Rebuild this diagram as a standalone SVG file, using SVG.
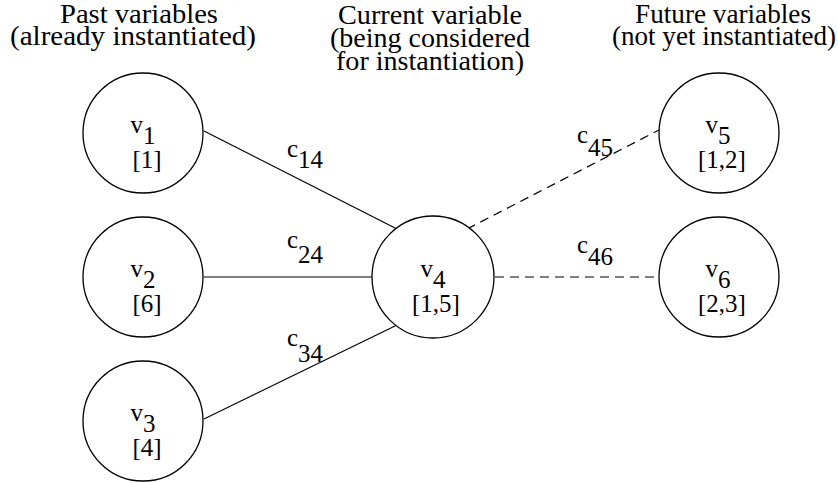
<svg xmlns="http://www.w3.org/2000/svg" width="838" height="483" viewBox="0 0 838 483">
<rect width="838" height="483" fill="#fff"/>
<g id="headers" text-anchor="middle" fill="#000">
<text font-family="Liberation Serif" font-size="28" x="139" y="23" textLength="158" lengthAdjust="spacingAndGlyphs">Past variables</text>
<text font-family="Liberation Serif" font-size="28" x="133" y="45" textLength="246" lengthAdjust="spacingAndGlyphs">(already instantiated)</text>
<text font-family="Liberation Serif" font-size="28" x="430" y="24" textLength="184" lengthAdjust="spacingAndGlyphs">Current variable</text>
<text font-family="Liberation Serif" font-size="28" x="430" y="47" textLength="200" lengthAdjust="spacingAndGlyphs">(being considered</text>
<text font-family="Liberation Serif" font-size="28" x="430" y="70" textLength="188" lengthAdjust="spacingAndGlyphs">for instantiation)</text>
<text font-family="Liberation Serif" font-size="28" x="723" y="23" textLength="176" lengthAdjust="spacingAndGlyphs">Future variables</text>
<text font-family="Liberation Serif" font-size="28" x="724" y="45" textLength="224" lengthAdjust="spacingAndGlyphs">(not yet instantiated)</text>
</g>
<g id="connectors" stroke="#000" stroke-width="1.2" fill="none">
<line x1="204" y1="131" x2="397" y2="229"/>
<line x1="204" y1="277" x2="372" y2="277"/>
<line x1="204" y1="419" x2="397" y2="325"/>
<g stroke-dasharray="9,6">
<line x1="467" y1="229" x2="659" y2="130"/>
<line x1="495" y1="277" x2="659" y2="277"/>
</g>
</g>
<g id="connector-labels" fill="#000">
<text font-family="Liberation Serif" font-size="25" x="287" y="157">c<tspan dy="11">14</tspan></text>
<text font-family="Liberation Serif" font-size="25" x="287" y="248">c<tspan dy="15">24</tspan></text>
<text font-family="Liberation Serif" font-size="25" x="287" y="346">c<tspan dy="16">34</tspan></text>
<text font-family="Liberation Serif" font-size="25" x="577" y="143">c<tspan dy="13">45</tspan></text>
<text font-family="Liberation Serif" font-size="25" x="577" y="253">c<tspan dy="12">46</tspan></text>
</g>
<g id="nodes" text-anchor="middle">
<g id="v1"><circle cx="143" cy="133" r="60" fill="#fff" stroke="#000" stroke-width="1.3"/><text font-family="Liberation Serif" font-size="25" x="143" y="133">v<tspan dy="11">1</tspan></text><text font-family="Liberation Serif" font-size="25" x="147" y="168">[1]</text></g>
<g id="v2"><circle cx="143" cy="277" r="60" fill="#fff" stroke="#000" stroke-width="1.3"/><text font-family="Liberation Serif" font-size="25" x="143" y="277">v<tspan dy="11">2</tspan></text><text font-family="Liberation Serif" font-size="25" x="147" y="312">[6]</text></g>
<g id="v3"><circle cx="143" cy="421" r="60" fill="#fff" stroke="#000" stroke-width="1.3"/><text font-family="Liberation Serif" font-size="25" x="143" y="421">v<tspan dy="11">3</tspan></text><text font-family="Liberation Serif" font-size="25" x="147" y="456">[4]</text></g>
<g id="v4"><circle cx="433" cy="277" r="61" fill="#fff" stroke="#000" stroke-width="1.3"/><text font-family="Liberation Serif" font-size="25" x="433" y="277">v<tspan dy="11">4</tspan></text><text font-family="Liberation Serif" font-size="25" x="436" y="312">[1,5]</text></g>
<g id="v5"><circle cx="719" cy="133" r="60" fill="#fff" stroke="#000" stroke-width="1.3"/><text font-family="Liberation Serif" font-size="25" x="718" y="133">v<tspan dy="11">5</tspan></text><text font-family="Liberation Serif" font-size="25" x="722" y="168">[1,2]</text></g>
<g id="v6"><circle cx="719" cy="277" r="60" fill="#fff" stroke="#000" stroke-width="1.3"/><text font-family="Liberation Serif" font-size="25" x="718" y="277">v<tspan dy="11">6</tspan></text><text font-family="Liberation Serif" font-size="25" x="722" y="312">[2,3]</text></g>
</g>
</svg>
